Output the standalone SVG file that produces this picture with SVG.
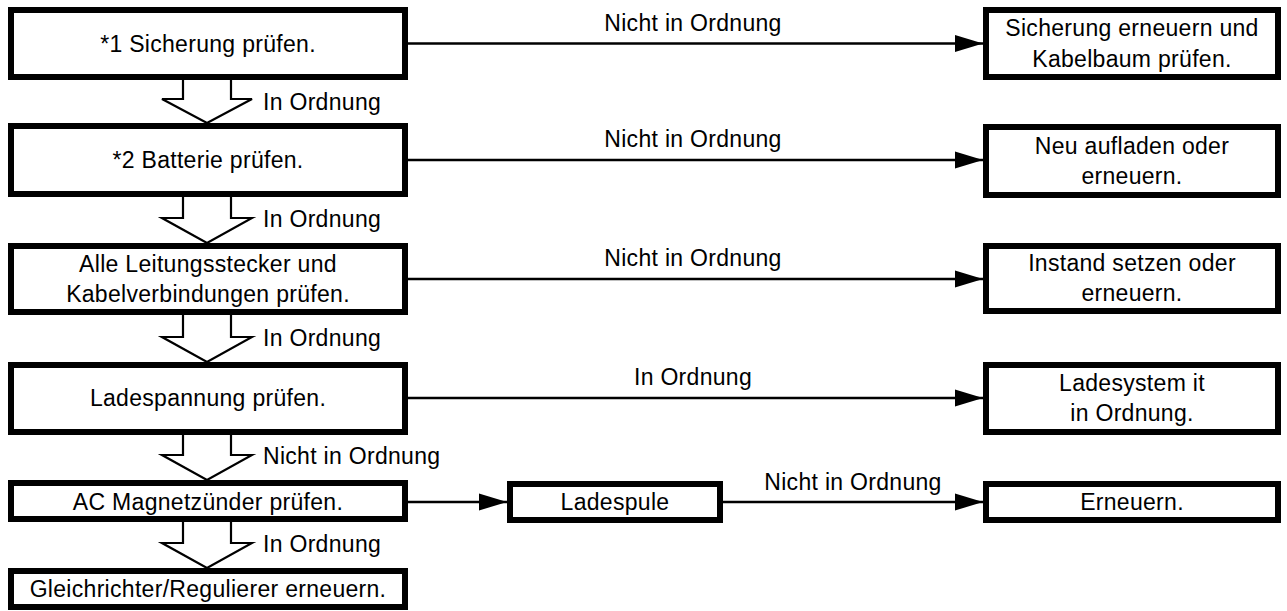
<svg xmlns="http://www.w3.org/2000/svg" width="1287" height="611" viewBox="0 0 1287 611">
<defs>
<style>
.box{fill:#fff;stroke:#000;stroke-width:6}
.t{font-family:"Liberation Sans",Arial,sans-serif;font-size:23px;fill:#000;letter-spacing:0.3px}
.c{text-anchor:middle}
.ln{stroke:#000;stroke-width:2.5;fill:none}
.hol{fill:#fff;stroke:#000;stroke-width:2.2;stroke-linejoin:miter}
</style>
<marker id="ah" markerUnits="userSpaceOnUse" markerWidth="28" markerHeight="18" refX="28" refY="9" orient="auto">
<path d="M0,0.5 L28,9 L0,17.5 z" fill="#000"/>
</marker>
</defs>
<rect width="1287" height="611" fill="#fff"/>

<g id="connectors">
<line class="ln" x1="408" y1="43.5" x2="983" y2="43.5" marker-end="url(#ah)"/>
<line class="ln" x1="408" y1="160" x2="983" y2="160" marker-end="url(#ah)"/>
<line class="ln" x1="408" y1="279" x2="983" y2="279" marker-end="url(#ah)"/>
<line class="ln" x1="408" y1="398" x2="983" y2="398" marker-end="url(#ah)"/>
<line class="ln" x1="408" y1="502" x2="507" y2="502" marker-end="url(#ah)"/>
<line class="ln" x1="723" y1="502" x2="983" y2="502" marker-end="url(#ah)"/>
<path class="hol" d="M183,80 V99 H162 L207,123 L252,99 H231 V80"/>
<path class="hol" d="M183,197 V218 H162 L207,243 L252,218 H231 V197"/>
<path class="hol" d="M183,315 V337 H162 L207,362 L252,337 H231 V315"/>
<path class="hol" d="M183,435 V455 H162 L207,480 L252,455 H231 V435"/>
<path class="hol" d="M183,522 V543 H162 L207,568 L252,543 H231 V522"/>
<text class="t c" x="693" y="31">Nicht in Ordnung</text>
<text class="t c" x="693" y="147">Nicht in Ordnung</text>
<text class="t c" x="693" y="266">Nicht in Ordnung</text>
<text class="t c" x="693" y="385">In Ordnung</text>
<text class="t c" x="853" y="490">Nicht in Ordnung</text>
<text class="t" x="263" y="110">In Ordnung</text>
<text class="t" x="263" y="227">In Ordnung</text>
<text class="t" x="263" y="346">In Ordnung</text>
<text class="t" x="263" y="464">Nicht in Ordnung</text>
<text class="t" x="263" y="552">In Ordnung</text>
</g>

<g id="n1"><rect class="box" x="11" y="10" width="394" height="67"/><text class="t c" x="208" y="51.5">*1 Sicherung prüfen.</text></g>
<g id="n2"><rect class="box" x="11" y="126" width="394" height="68"/><text class="t c" x="208" y="168">*2 Batterie prüfen.</text></g>
<g id="n3"><rect class="box" x="11" y="246" width="394" height="66"/><text class="t c" x="208" y="272">Alle Leitungsstecker und</text><text class="t c" x="208" y="302">Kabelverbindungen prüfen.</text></g>
<g id="n4"><rect class="box" x="11" y="365" width="394" height="67"/><text class="t c" x="208" y="406">Ladespannung prüfen.</text></g>
<g id="n5"><rect class="box" x="11" y="483" width="394" height="36"/><text class="t c" x="208" y="510">AC Magnetzünder prüfen.</text></g>
<g id="n6"><rect class="box" x="11" y="571" width="394" height="36"/><text class="t c" x="208" y="597">Gleichrichter/Regulierer erneuern.</text></g>

<g id="r1"><rect class="box" x="986" y="10" width="292" height="67"/><text class="t c" x="1132" y="36">Sicherung erneuern und</text><text class="t c" x="1132" y="67">Kabelbaum prüfen.</text></g>
<g id="r2"><rect class="box" x="986" y="127" width="292" height="68"/><text class="t c" x="1132" y="154">Neu aufladen oder</text><text class="t c" x="1132" y="184">erneuern.</text></g>
<g id="r3"><rect class="box" x="986" y="246" width="292" height="65"/><text class="t c" x="1132" y="271">Instand setzen oder</text><text class="t c" x="1132" y="301">erneuern.</text></g>
<g id="r4"><rect class="box" x="986" y="365" width="292" height="67"/><text class="t c" x="1132" y="391">Ladesystem it</text><text class="t c" x="1132" y="421">in Ordnung.</text></g>
<g id="ladespule"><rect class="box" x="510" y="484" width="210" height="36"/><text class="t c" x="615" y="510">Ladespule</text></g>
<g id="r5"><rect class="box" x="986" y="484" width="292" height="36"/><text class="t c" x="1132" y="510">Erneuern.</text></g>
</svg>
